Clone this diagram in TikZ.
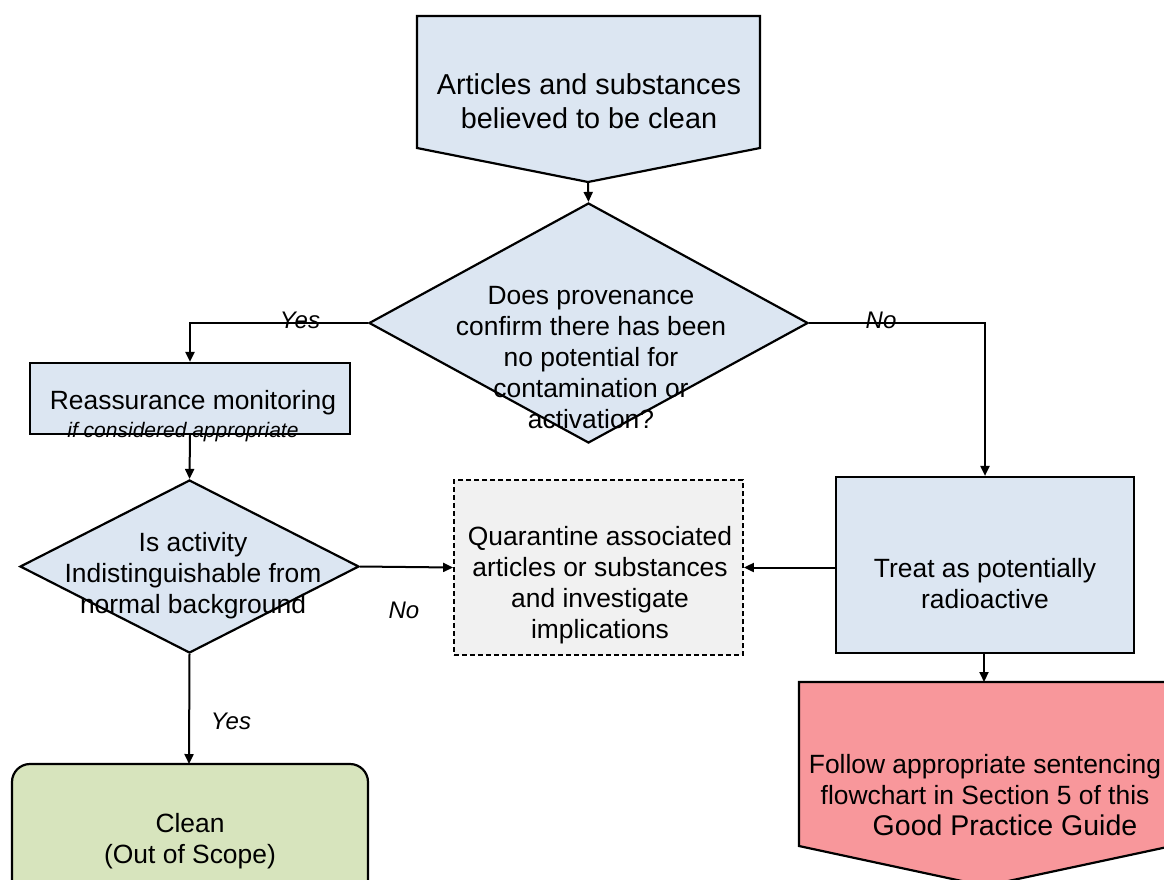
\documentclass[tikz,border=0pt]{standalone}
\usepackage{fontspec}
\setmainfont{Liberation Sans}
\usetikzlibrary{arrows.meta,shapes.geometric}
\definecolor{boxblue}{HTML}{DCE6F2}
\definecolor{boxgray}{HTML}{F1F1F1}
\definecolor{boxgreen}{HTML}{D7E4BD}
\definecolor{boxred}{HTML}{F8979B}
\tikzset{
  outline/.style={draw=black,line width=2.2pt,line join=miter},
  flowbox/.style={outline,rectangle,inner sep=0pt},
  decision/.style={outline,diamond,fill=boxblue,inner sep=0pt},
  txt/.style={align=center,font=\fontsize{26.4}{31}\selectfont,inner sep=0pt},
  lbl/.style={font=\fontsize{24}{28}\selectfont\itshape,inner sep=0pt},
  flow/.style={line width=2pt,-{Triangle[length=10pt,width=9pt]}}
}
\begin{document}
\begin{tikzpicture}[x=1pt,y=-1pt]
\clip (0,0) rectangle (1164,879);
\fill[white] (0,0) rectangle (1164,879);

% start: pentagon pointing down
\draw[outline,fill=boxblue] (417,16) -- (760,16) -- (760,148) -- (588,182) -- (417,148) -- cycle;
\coordinate (start-tip) at (588,182);
\node[txt,font=\fontsize{28.8}{34}\selectfont] (start-text) at (589,101) {Articles and substances\\believed to be clean};

% first decision
\node[decision,minimum width=439pt,minimum height=240pt] (q1) at (588.5,323) {};
\node[txt] (q1-text) at (591,358) {Does provenance\\confirm there has been\\no potential for\\contamination or\\activation?};

% reassurance monitoring
\node[flowbox,fill=boxblue,minimum width=320pt,minimum height=71pt] (reass) at (190,398.5) {};
\node[txt] (reass-text) at (193,403) {Reassurance monitoring};
\node[font=\fontsize{21}{24}\selectfont\itshape,inner sep=0pt] (reass-note) at (183,432) {if considered appropriate};

% second decision
\node[decision,minimum width=339pt,minimum height=173pt] (q2) at (189.5,566.5) {};
\node[txt] (q2-text) at (193,576) {Is activity\\Indistinguishable from\\normal background};

% quarantine
\node[flowbox,fill=boxgray,dashed,dash pattern=on 5pt off 3pt,line width=1.8pt,minimum width=289pt,minimum height=175pt] (quar) at (598.5,567.5) {};
\node[txt] (quar-text) at (600,585) {Quarantine associated\\articles or substances\\and investigate\\implications};

% treat as radioactive
\node[flowbox,fill=boxblue,minimum width=298pt,minimum height=176pt] (treat) at (985,565) {};
\node[txt] (treat-text) at (985,584) {Treat as potentially\\radioactive};

% sentencing: pentagon pointing down
\draw[outline,fill=boxred] (799,682) -- (1172,682) -- (1172,846) -- (985,886) -- (799,846) -- cycle;
\coordinate (sent-top) at (984,682);
\node[txt,anchor=north] (sent-text) at (985,754) {Follow appropriate sentencing\\flowchart in Section 5 of this\\\hspace*{40pt}{\fontsize{28.5}{31}\selectfont Good Practice Guide}};

% clean
\draw[outline,fill=boxgreen,rounded corners=18pt] (12,764) rectangle (368,900);
\coordinate (clean-top) at (189,764);
\node[txt] (clean-text) at (190,841) {Clean\\(Out of Scope)};

% connectors
\draw[flow] (start-tip) -- (q1.north);
\draw[flow] (q1.west) -| (reass.north);
\draw[flow] (q1.east) -| (treat.north);
\draw[flow] (reass.south) -- (q2.north);
\draw[flow] (q2.east) -- (quar.west);
\draw[flow] (treat.west |- quar.east) -- (quar.east);
\draw[flow] (q2.south) -- (clean-top);
\draw[flow] (treat.south -| sent-top) -- (sent-top);

% branch labels
\node[lbl] (yes-a) at (300,320) {Yes};
\node[lbl] (no-a) at (881,320) {No};
\node[lbl] (no-b) at (404,610) {No};
\node[lbl] (yes-b) at (231,721) {Yes};
\end{tikzpicture}
\end{document}
